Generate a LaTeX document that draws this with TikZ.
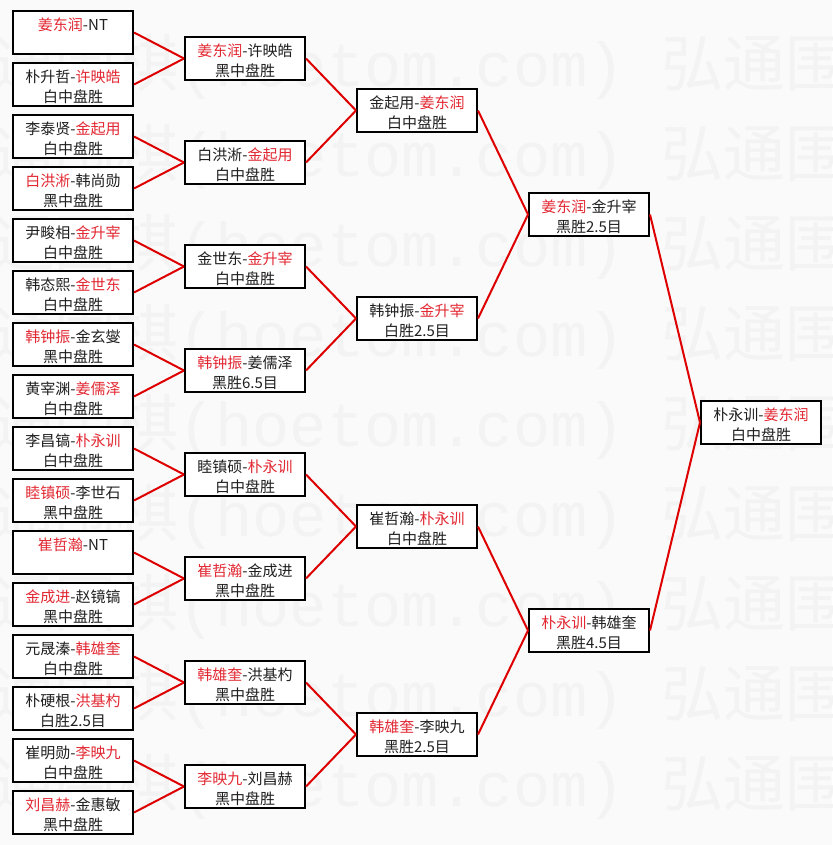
\documentclass[tikz,border=0pt]{standalone}
\usepackage{fontspec}
\setmainfont{Noto Sans CJK SC}
\newfontfamily\wmmono{Liberation Mono}
\definecolor{wred}{RGB}{226,40,50}
\definecolor{lred}{RGB}{222,0,0}
\definecolor{wmgray}{RGB}{243,243,243}
\newcommand{\rn}[1]{\textcolor{wred}{#1}}
\begin{document}
\begin{tikzpicture}[x=1pt,y=-1pt,
  box/.style={draw=black,line width=2pt,fill=white,minimum width=120pt,minimum height=43pt,inner sep=0pt},
  txt/.style={align=center,font=\fontsize{15}{20}\selectfont,text=black!88,inner sep=0pt},
  link/.style={draw=lred,line width=2pt},
  wmark/.style={anchor=west,text=wmgray,font=\fontsize{62}{62}\selectfont,inner sep=0pt}]
\useasboundingbox (0,0) rectangle (832,845);
\fill[white!98!black] (0,0) rectangle (832,845);
\begin{scope}
\clip (0,0) rectangle (832,845);
\foreach \n in {0,...,8}
  \node[wmark] (wm\n) at (-70,{67+90*\n}) {弘通围棋{\wmmono(hoetom.com) }弘通围棋};
\end{scope}
% round 1
\foreach \i/\t in {
 0/{\rn{姜东润}-NT\\\phantom{白}},
 1/{朴升哲-\rn{许映皓}\\白中盘胜},
 2/{李泰贤-\rn{金起用}\\白中盘胜},
 3/{\rn{白洪淅}-韩尚勋\\黑中盘胜},
 4/{尹畯相-\rn{金升宰}\\白中盘胜},
 5/{韩态熙-\rn{金世东}\\白中盘胜},
 6/{\rn{韩钟振}-金玄燮\\黑中盘胜},
 7/{黄宰渊-\rn{姜儒泽}\\白中盘胜},
 8/{李昌镐-\rn{朴永训}\\白中盘胜},
 9/{\rn{睦镇硕}-李世石\\黑中盘胜},
 10/{\rn{崔哲瀚}-NT\\\phantom{白}},
 11/{\rn{金成进}-赵镜镐\\黑中盘胜},
 12/{元晟溱-\rn{韩雄奎}\\白中盘胜},
 13/{朴硬根-\rn{洪基杓}\\白胜2.5目},
 14/{崔明勋-\rn{李映九}\\白中盘胜},
 15/{\rn{刘昌赫}-金惠敏\\黑中盘胜}}
{
  \node[box] (a\i) at (73,{32.5+52*\i}) {};
  \node[txt] (at\i) at (73,{35+52*\i}) {\t};
}
% round 2
\foreach \i/\t in {
 0/{\rn{姜东润}-许映皓\\黑中盘胜},
 1/{白洪淅-\rn{金起用}\\白中盘胜},
 2/{金世东-\rn{金升宰}\\白中盘胜},
 3/{\rn{韩钟振}-姜儒泽\\黑胜6.5目},
 4/{睦镇硕-\rn{朴永训}\\白中盘胜},
 5/{\rn{崔哲瀚}-金成进\\黑中盘胜},
 6/{\rn{韩雄奎}-洪基杓\\黑中盘胜},
 7/{\rn{李映九}-刘昌赫\\黑中盘胜}}
{
  \node[box] (b\i) at (245,{58.5+104*\i}) {};
  \node[txt] (bt\i) at (245,{61+104*\i}) {\t};
}
% round 3
\foreach \i/\t in {
 0/{金起用-\rn{姜东润}\\白中盘胜},
 1/{韩钟振-\rn{金升宰}\\白胜2.5目},
 2/{崔哲瀚-\rn{朴永训}\\白中盘胜},
 3/{\rn{韩雄奎}-李映九\\黑胜2.5目}}
{
  \node[box] (c\i) at (417,{110.5+208*\i}) {};
  \node[txt] (ct\i) at (417,{113+208*\i}) {\t};
}
% round 4
\foreach \i/\t in {
 0/{\rn{姜东润}-金升宰\\黑胜2.5目},
 1/{\rn{朴永训}-韩雄奎\\黑胜4.5目}}
{
  \node[box] (d\i) at (589,{214.5+416*\i}) {};
  \node[txt] (dt\i) at (589,{217+416*\i}) {\t};
}
% final
\node[box] (e0) at (761,422.5) {};
\node[txt] (et0) at (761,425) {朴永训-\rn{姜东润}\\白中盘胜};
% connectors
\foreach \j in {0,...,7}{
  \pgfmathtruncatemacro\p{2*\j}
  \pgfmathtruncatemacro\q{2*\j+1}
  \draw[link] (a\p.east) -- (b\j.west);
  \draw[link] (a\q.east) -- (b\j.west);
}
\foreach \j in {0,...,3}{
  \pgfmathtruncatemacro\p{2*\j}
  \pgfmathtruncatemacro\q{2*\j+1}
  \draw[link] (b\p.east) -- (c\j.west);
  \draw[link] (b\q.east) -- (c\j.west);
}
\foreach \j in {0,1}{
  \pgfmathtruncatemacro\p{2*\j}
  \pgfmathtruncatemacro\q{2*\j+1}
  \draw[link] (c\p.east) -- (d\j.west);
  \draw[link] (c\q.east) -- (d\j.west);
}
\draw[link] (d0.east) -- (e0.west);
\draw[link] (d1.east) -- (e0.west);
\end{tikzpicture}
\end{document}
